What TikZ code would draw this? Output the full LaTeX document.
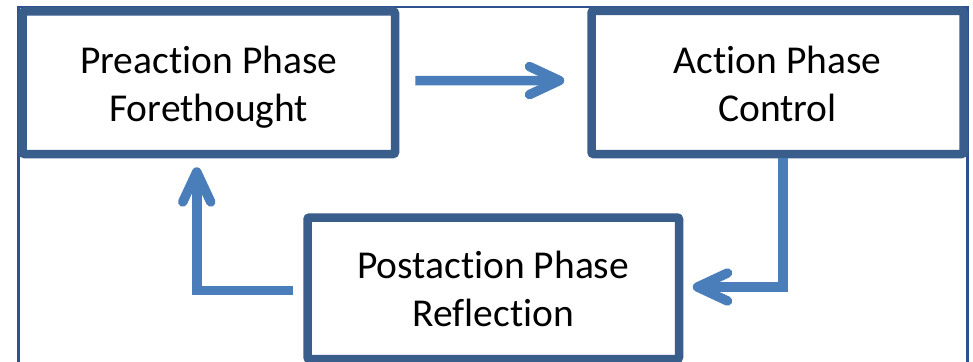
\documentclass[tikz,border=0pt]{standalone}
\usepackage{fontspec}
\setmainfont{Carlito}[Ligatures={NoCommon}]
\usetikzlibrary{arrows.meta}
\definecolor{boxblue}{RGB}{58,94,140}
\definecolor{arrblue}{RGB}{74,126,187}
\definecolor{framblue}{RGB}{47,82,143}
\newcommand{\twolines}[2]{\raisebox{-5pt}[\height][\depth]{\begin{tabular}{@{}c@{}}#1\\#2\end{tabular}}}
\tikzset{
  phasebox/.style={draw=boxblue, line width=8.5pt, rounded corners=2pt, fill=white,
    inner sep=0pt, font=\fontsize{39.5}{48}\selectfont, text=black},
  flowarrow/.style={draw=arrblue, line width=9.5pt,
    -{Straight Barb[length=30pt, width=28pt, round]}}
}
\begin{document}
\begin{tikzpicture}[x=1pt,y=-1pt]
\useasboundingbox (0,0) rectangle (973,361);
\fill[white] (0,0) rectangle (973,361);
\draw[framblue, line width=2.5pt] (18.5,380) -- (18.5,7) -- (967.5,7) -- (967.5,380);
\node[phasebox, minimum width=372.5pt, minimum height=142.5pt] (b1) at (208.75,82.75) {\twolines{Preaction Phase}{Forethought}};
\node[phasebox, minimum width=372pt, minimum height=143pt] (b2) at (777.5,82.5) {\twolines{Action Phase}{Control}};
\node[phasebox, minimum width=371.5pt, minimum height=141.5pt] (b3) at (493.25,288.25) {\twolines{Postaction Phase}{Reflection}};
\draw[flowarrow, shorten >=23pt] ([xshift=16pt,yshift=2pt]b1.east) -- ([yshift=2pt]b2.west);
\draw[flowarrow, shorten >=9pt] ([xshift=-10pt,yshift=-2pt]b3.west) -| ([xshift=-12pt]b1.south);
\draw[flowarrow, shorten >=9.5pt] ([xshift=5.5pt]b2.south) |- ([yshift=1.25pt]b3.east);
\end{tikzpicture}
\end{document}
